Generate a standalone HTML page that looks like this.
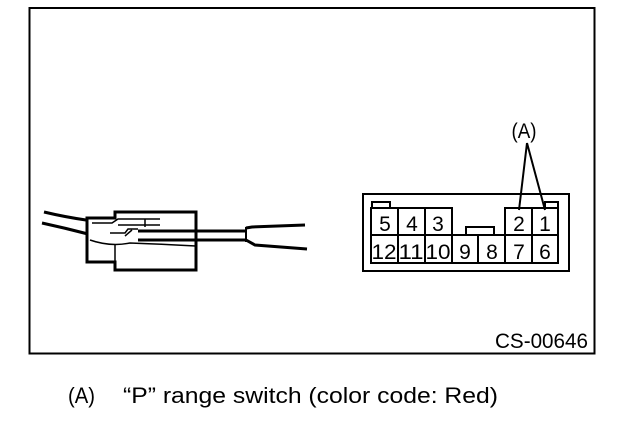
<!DOCTYPE html>
<html><head><meta charset="utf-8"><style>
html,body{margin:0;padding:0;background:#fff;}
svg{display:block;}
text{font-family:"Liberation Sans",Arial,sans-serif;fill:#000;}
</style></head><body>
<svg width="640" height="444" viewBox="0 0 640 444" xmlns="http://www.w3.org/2000/svg">
<rect x="29.5" y="8" width="565" height="345.5" fill="none" stroke="#000" stroke-width="2"/>

<!-- left connector -->
<g fill="none" stroke="#000" stroke-linejoin="miter">
<path d="M44,212 Q65,217 86,220" stroke-width="3"/>
<path d="M42,223 Q65,228 88,234" stroke-width="3"/>
<path d="M115,212 H196 V270 H115 V262 H87 V218 H115 Z" stroke-width="3"/>
<path d="M92,223 H112 L118,219 H160 M145,219 V227 M118,225 H160" stroke-width="1.5"/>
<path d="M90,240 Q110,247 130,243 Q160,244 196,246" stroke-width="1.5"/>
<path d="M115,245 V262" stroke-width="1.5"/>
<path d="M110,233 H125 L128,229 H138" stroke-width="1.5"/>
<path d="M125,236 L132,230" stroke-width="1.5"/>
<path d="M138,231 H246" stroke-width="3"/>
<path d="M138,240 H246" stroke-width="3"/>
<path d="M246,228 L252,227 L305,225" stroke-width="3"/>
<path d="M246,240 L255,245 L307,249" stroke-width="3"/>
<path d="M246,227 V242" stroke-width="2"/>
</g>

<!-- right connector -->
<g fill="none" stroke="#000" stroke-width="2">
<rect x="363" y="194" width="206" height="77"/>
<rect x="372" y="202" width="18" height="6"/>
<rect x="545" y="202" width="13" height="6"/>
<rect x="466" y="227" width="28" height="8"/>
<path d="M371,235 V208 H452 V235 M398,208 V263 M425,208 V263 M505,235 V208 H558 V235 M532,208 V263"/>
<rect x="371" y="235" width="187" height="28"/>
<path d="M452,235 V263 M478,235 V263 M505,235 V263"/>
<path d="M527,143 L519,210 M527,143 L545,210"/>
</g>
<g font-size="21" text-anchor="middle">
<text x="385" y="231">5</text><text x="412" y="231">4</text><text x="438" y="231">3</text>
<text x="519" y="231">2</text><text x="545" y="231">1</text>
<text x="384" y="259" textLength="25" lengthAdjust="spacingAndGlyphs">12</text>
<text x="411" y="259" textLength="25" lengthAdjust="spacingAndGlyphs">11</text>
<text x="438" y="259" textLength="25" lengthAdjust="spacingAndGlyphs">10</text>
<text x="465" y="259">9</text><text x="492" y="259">8</text>
<text x="519" y="259">7</text><text x="545" y="259">6</text>
<text x="524" y="138" font-size="21" textLength="25" lengthAdjust="spacingAndGlyphs">(A)</text>
</g>

<text x="495" y="348" font-size="21" textLength="93" lengthAdjust="spacingAndGlyphs">CS-00646</text>
<text x="68" y="403" font-size="22" textLength="27" lengthAdjust="spacingAndGlyphs">(A)</text>
<text x="123" y="403" font-size="22" textLength="375" lengthAdjust="spacingAndGlyphs">“P” range switch (color code: Red)</text>
</svg>
</body></html>
